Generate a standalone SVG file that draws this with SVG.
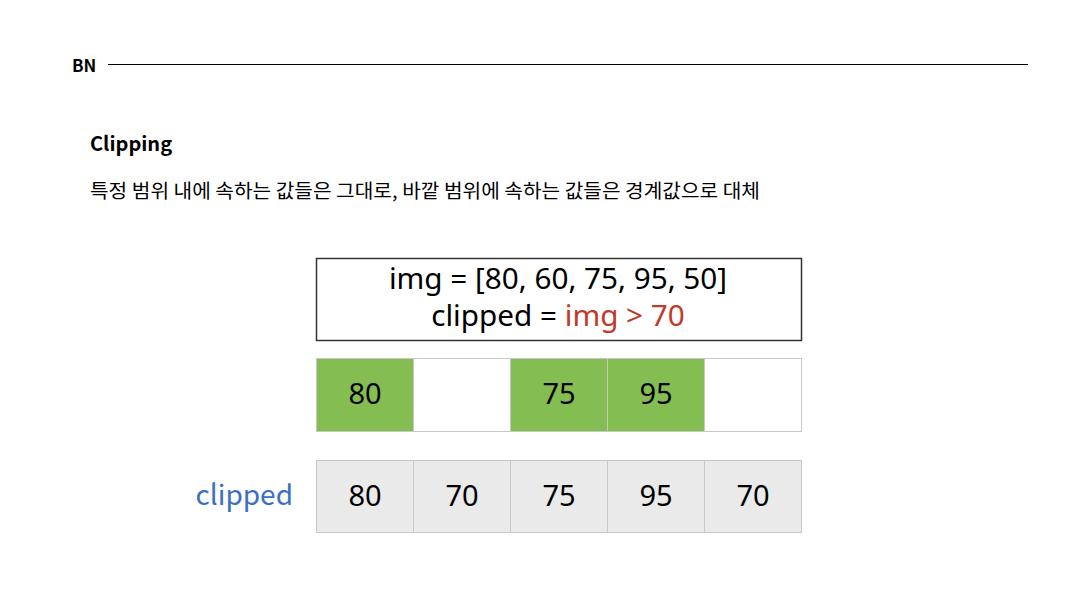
<svg xmlns="http://www.w3.org/2000/svg" width="1083" height="609" viewBox="0 0 1083 609">
<style>
.t{font-family:"Noto Sans CJK KR","Noto Sans",sans-serif;}
.num{font-family:"Noto Sans","Noto Sans CJK KR",sans-serif;font-size:29px;fill:#000;text-anchor:middle;}
.code{font-size:29.7px;}
.g{fill:#84bd52;stroke:#c8c8c8;stroke-width:1;}
.w{fill:#ffffff;stroke:#c8c8c8;stroke-width:1;}
.e{fill:#eaeaea;stroke:#c8c8c8;stroke-width:1;}
</style>
<rect width="1083" height="609" fill="#ffffff"/>
<g id="header">
<text class="t" x="72" y="72" font-size="17" font-weight="bold" fill="#000">BN</text>
<line x1="108" y1="64.5" x2="1028" y2="64.5" stroke="#000" stroke-width="1"/>
</g>
<g id="title">
<text class="t" x="90" y="151" font-size="20" font-weight="bold" fill="#000">Clipping</text>
<text class="t" x="90" y="198" font-size="19" fill="#000" textLength="670" lengthAdjust="spacingAndGlyphs">특정 범위 내에 속하는 값들은 그대로, 바깥 범위에 속하는 값들은 경계값으로 대체</text>
</g>
<g id="code-box">
<rect x="316.5" y="258.5" width="485" height="82" fill="#fff" stroke="#333" stroke-width="1.5"/>
<text class="num code" x="558" y="289">img = [80, 60, 75, 95, 50]</text>
<text class="num code" x="558" y="326">clipped = <tspan fill="#c0392b">img &gt; 70</tspan></text>
</g>
<g id="mask-row">
<rect class="g" x="316.5" y="358.5" width="97" height="73"/>
<rect class="w" x="413.5" y="358.5" width="97" height="73"/>
<rect class="g" x="510.5" y="358.5" width="97" height="73"/>
<rect class="g" x="607.5" y="358.5" width="97" height="73"/>
<rect class="w" x="704.5" y="358.5" width="97" height="73"/>
<text class="num" x="365" y="404">80</text>
<text class="num" x="559" y="404">75</text>
<text class="num" x="656" y="404">95</text>
</g>
<g id="clipped-row">
<text class="t" x="293" y="505" font-size="28" fill="#3a6fc4" text-anchor="end">clipped</text>
<rect class="e" x="316.5" y="460.5" width="97" height="72"/>
<rect class="e" x="413.5" y="460.5" width="97" height="72"/>
<rect class="e" x="510.5" y="460.5" width="97" height="72"/>
<rect class="e" x="607.5" y="460.5" width="97" height="72"/>
<rect class="e" x="704.5" y="460.5" width="97" height="72"/>
<text class="num" x="365" y="506">80</text>
<text class="num" x="462" y="506">70</text>
<text class="num" x="559" y="506">75</text>
<text class="num" x="656" y="506">95</text>
<text class="num" x="753" y="506">70</text>
</g>
<g id="connectors"></g>
</svg>
